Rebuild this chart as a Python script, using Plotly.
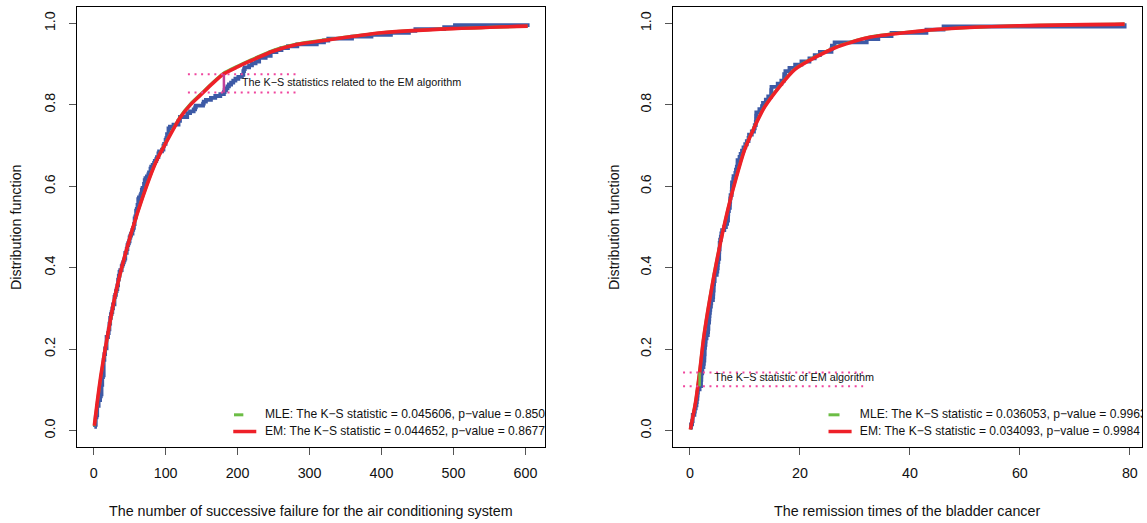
import plotly.graph_objects as go

# ---------------- data ----------------
# Air conditioning system: successive failure intervals (pooled sample)
air_times = [194, 15, 41, 29, 33, 181,
             413, 14, 58, 37, 100, 65, 9, 169, 447, 184, 36, 201, 118, 34, 31, 18, 18, 67, 57, 62, 7, 22, 34,
             90, 10, 60, 186, 61, 49, 14, 24, 56, 20, 79, 84, 44, 59, 29, 118, 25, 156, 310, 76, 26, 44, 23, 62, 130, 208, 70, 101, 208,
             74, 57, 48, 29, 502, 12, 70, 21, 29, 386, 59, 27, 153, 26, 326,
             55, 320, 56, 104, 220, 239, 47, 246, 176, 182, 33, 15, 104, 35,
             23, 261, 87, 7, 120, 14, 62, 47, 225, 71, 246, 21, 42, 20, 5, 12, 120, 11, 3, 14, 71, 11, 14, 11, 16, 90, 1, 16, 52, 95,
             97, 51, 11, 4, 141, 18, 142, 68, 77, 80, 1, 16, 106, 206, 82, 54, 31, 216, 46, 111, 39, 63, 18, 191, 18, 163, 24,
             50, 44, 102, 72, 22, 39, 3, 15, 197, 188, 79, 88, 46, 5, 5, 36, 22, 139, 210, 97, 30, 23, 13, 14,
             359, 9, 12, 270, 603, 3, 104, 2, 438,
             50, 254, 5, 283, 35, 12,
             487, 18, 100, 7, 98, 5, 85, 91, 43, 230, 3, 130,
             102, 209, 14, 57, 54, 32, 67, 59, 134, 152, 27, 14, 230, 66, 61, 34,
             40, 11]

# Bladder cancer remission times
bladder_times = [0.08, 2.09, 3.48, 4.87, 6.94, 8.66, 13.11, 23.63, 0.20, 2.23, 3.52, 4.98, 6.97, 9.02, 13.29,
                 0.40, 2.26, 3.57, 5.06, 7.09, 9.22, 13.80, 25.74, 0.50, 2.46, 3.64, 5.09, 7.26, 9.47, 14.24, 25.82,
                 0.51, 2.54, 3.70, 5.17, 7.28, 9.74, 14.76, 26.31, 0.81, 2.62, 3.82, 5.32, 7.32, 10.06, 14.77, 32.15,
                 2.64, 3.88, 5.32, 7.39, 10.34, 14.83, 34.26, 0.90, 2.69, 4.18, 5.34, 7.59, 10.66, 15.96, 36.66,
                 1.05, 2.69, 4.23, 5.41, 7.62, 10.75, 16.62, 43.01, 1.19, 2.75, 4.26, 5.41, 7.63, 17.12, 46.12,
                 1.26, 2.83, 4.33, 5.49, 7.66, 11.25, 17.14, 79.05, 1.35, 2.87, 5.62, 7.87, 11.64, 17.36,
                 1.40, 3.02, 4.34, 5.71, 7.93, 11.79, 18.10, 1.46, 4.40, 5.85, 8.26, 11.98, 19.13,
                 1.76, 3.25, 4.50, 6.25, 8.37, 12.02, 2.02, 3.31, 4.51, 6.54, 8.53, 12.03, 20.28,
                 2.02, 3.36, 6.76, 12.07, 21.73, 2.07, 3.36, 6.93, 8.65, 12.63, 22.69]

# Fitted distribution functions
air_fit_x = [1, 5, 10, 16.7, 30.7, 47, 61, 77, 88, 100, 120, 135, 148, 165, 180, 200, 217, 250, 282,
             320, 400, 500, 603]
air_fit_em = [0.012, 0.07, 0.135, 0.207, 0.339, 0.453, 0.535, 0.617, 0.665, 0.705, 0.768, 0.801, 0.823,
              0.852, 0.875, 0.893, 0.907, 0.932, 0.948, 0.958, 0.977, 0.987, 0.993]
air_fit_mle = [0.011, 0.068, 0.133, 0.205, 0.337, 0.452, 0.535, 0.618, 0.666, 0.707, 0.770, 0.803, 0.825,
               0.854, 0.877, 0.895, 0.909, 0.934, 0.949, 0.959, 0.977, 0.987, 0.993]

bl_fit_x = [0.08, 1.0, 1.76, 2.5, 3.6, 5.0, 6.94, 8.5, 10.0, 13.6, 19.1, 26.4, 32.5, 45, 60, 79.05]
bl_fit_em = [0.003, 0.068, 0.143, 0.228, 0.322, 0.425, 0.545, 0.625, 0.692, 0.795, 0.887, 0.940,
             0.965, 0.985, 0.994, 0.998]
bl_fit_mle = [0.003, 0.069, 0.145, 0.230, 0.324, 0.427, 0.546, 0.626, 0.693, 0.796, 0.888, 0.941,
              0.966, 0.985, 0.994, 0.998]

# K-S markers
ks_left_x = 181
ks_left_lo, ks_left_hi = 0.830, 0.875
ks_left_guide = [131, 282]
ks_left_text_pos = (206, 0.853)
ks_right_x = 1.76
ks_right_lo, ks_right_hi = 0.109, 0.143
ks_right_guide = [-1.25, 31.5]
ks_right_text_pos = (4.4, 0.128)

left_legend = ["MLE: The K\u2212S statistic = 0.045606, p\u2212value = 0.8505",
               "EM: The K\u2212S statistic = 0.044652, p\u2212value = 0.8677"]
right_legend = ["MLE: The K\u2212S statistic = 0.036053, p\u2212value = 0.9963",
                "EM: The K\u2212S statistic = 0.034093, p\u2212value = 0.9984"]

left_xticks = [0, 100, 200, 300, 400, 500, 600]
right_xticks = [0, 20, 40, 60, 80]
yticks = [0.0, 0.2, 0.4, 0.6, 0.8, 1.0]
ytick_text = ["0.0", "0.2", "0.4", "0.6", "0.8", "1.0"]

# ---------------- style ----------------
W, H = 1147, 523
FONT = "Liberation Sans, Arial, sans-serif"
BLUE = "#3d5aa6"
RED = "#ee2028"
GREEN = "#6cbd45"
PINK = "#f0469e"
MAGENTA = "#c2419a"


def ecdf(vals):
    s = sorted(vals)
    n = len(s)
    xs, ys = [], []
    for i, v in enumerate(s):
        if xs and xs[-1] == v:
            ys[-1] = (i + 1) / n
        else:
            xs.append(v)
            ys.append((i + 1) / n)
    return xs, ys


fig = go.Figure()


def add_panel(xa, ya, data, fx, fmle, fem, ksx, klo, khi, guide, tpos, ttext, seg_color,
              legend, leg_green, leg_red, leg_tx):
    ex, ey = ecdf(data)
    kw = dict(xaxis=xa, yaxis=ya, showlegend=False, hoverinfo="skip")
    fig.add_trace(go.Scatter(x=ex, y=ey, mode="lines", line=dict(color=BLUE, width=3.8, shape="hv"), **kw))
    fig.add_trace(go.Scatter(x=fx, y=fmle, mode="lines",
                             line=dict(color=GREEN, width=3, shape="spline", smoothing=0.6), **kw))
    fig.add_trace(go.Scatter(x=fx, y=fem, mode="lines",
                             line=dict(color=RED, width=3.6, shape="spline", smoothing=0.6), **kw))
    # guide dotted lines
    for yv in (klo, khi):
        fig.add_trace(go.Scatter(x=guide, y=[yv, yv], mode="lines",
                                 line=dict(color=PINK, width=2, dash="2px,4.6px"), **kw))
    fig.add_trace(go.Scatter(x=[ksx, ksx], y=[klo, khi], mode="lines",
                             line=dict(color=seg_color, width=2.5), **kw))
    fig.add_trace(go.Scatter(x=[tpos[0]], y=[tpos[1]], mode="text", text=[ttext],
                             textposition="middle right",
                             textfont=dict(family=FONT, size=10.8, color="#111"), **kw))
    # legend
    fig.add_trace(go.Scatter(x=leg_green[0], y=[leg_green[1]] * 2, mode="lines",
                             line=dict(color=GREEN, width=3), **kw))
    fig.add_trace(go.Scatter(x=leg_red[0], y=[leg_red[1]] * 2, mode="lines",
                             line=dict(color=RED, width=3.5), **kw))
    fig.add_trace(go.Scatter(x=[leg_tx, leg_tx], y=[leg_green[1], leg_red[1]], mode="text",
                             text=legend, textposition="middle right",
                             textfont=dict(family=FONT, size=12.1, color="#111"), **kw))


add_panel("x", "y", air_times, air_fit_x, air_fit_mle, air_fit_em,
          ks_left_x, ks_left_lo, ks_left_hi, ks_left_guide, ks_left_text_pos,
          "The K\u2212S statistics related to the EM algorithm", MAGENTA,
          left_legend, ([195, 208], 0.039), ([194, 226], -0.002), 238)

add_panel("x2", "y2", bladder_times, bl_fit_x, bl_fit_mle, bl_fit_em,
          ks_right_x, ks_right_lo, ks_right_hi, ks_right_guide, ks_right_text_pos,
          "The K\u2212S statistic of EM algorithm", GREEN,
          right_legend, ([25.2, 27.2], 0.039), ([25.2, 29.4], -0.002), 30.9)

ydom = [1 - 447 / H, 1 - 7 / H]
axis_common = dict(showline=True, linecolor="black", linewidth=1, mirror=True,
                   ticks="outside", ticklen=7, tickcolor="#555", tickwidth=1,
                   showgrid=False, zeroline=False,
                   tickfont=dict(family=FONT, size=14.3, color="#111"))

title_font = dict(family=FONT, size=14.3, color="#111")

fig.update_layout(
    width=W, height=H,
    margin=dict(l=0, r=0, t=0, b=0),
    paper_bgcolor="white", plot_bgcolor="white",
    xaxis=dict(domain=[77 / W, 545 / W], range=[-23.08, 627.08], tickvals=left_xticks,
               anchor="y", ticklabelstandoff=6, **axis_common),
    yaxis=dict(domain=ydom, range=[-0.04, 1.04], tickvals=yticks, ticktext=ytick_text,
               tickangle=-90, anchor="x", ticklabelstandoff=8, **axis_common),
    xaxis2=dict(domain=[673 / W, 1142 / W], range=[-3.079, 82.209], tickvals=right_xticks,
                anchor="y2", ticklabelstandoff=6, **axis_common),
    yaxis2=dict(domain=ydom, range=[-0.04, 1.04], tickvals=yticks, ticktext=ytick_text,
                tickangle=-90, anchor="x2", ticklabelstandoff=8, **axis_common),
    annotations=[
        dict(text="The number of successive failure for the air conditioning system",
             x=311 / W, y=1 - 511 / H, xref="paper", yref="paper", showarrow=False,
             font=title_font, xanchor="center", yanchor="middle"),
        dict(text="The remission times of the bladder cancer",
             x=907 / W, y=1 - 511 / H, xref="paper", yref="paper", showarrow=False,
             font=title_font, xanchor="center", yanchor="middle"),
        dict(text="Distribution function", textangle=-90,
             x=16 / W, y=1 - 227 / H, xref="paper", yref="paper", showarrow=False,
             font=title_font, xanchor="center", yanchor="middle"),
        dict(text="Distribution function", textangle=-90,
             x=614 / W, y=1 - 227 / H, xref="paper", yref="paper", showarrow=False,
             font=title_font, xanchor="center", yanchor="middle"),
    ],
)

fig.write_html("out.html", config={"displayModeBar": False},
               post_script="document.body.style.margin='0px';document.body.style.overflow='hidden';")
